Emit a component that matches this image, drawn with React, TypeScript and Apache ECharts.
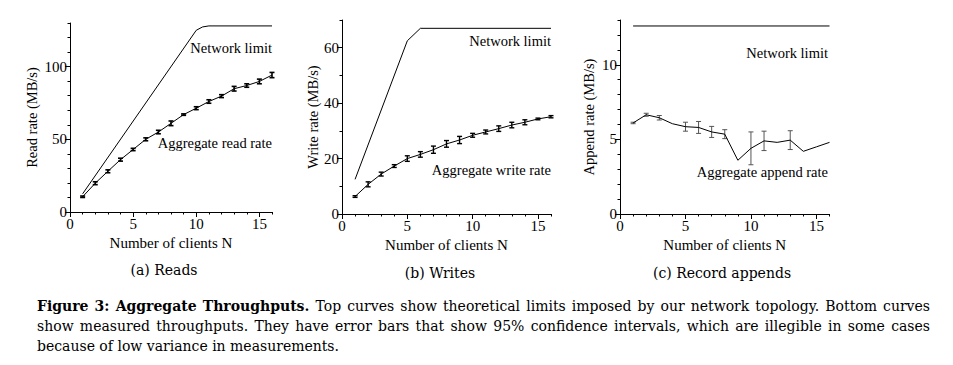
import React, { useEffect, useRef } from "react";
import * as echarts from "echarts";

// ---------------- data ----------------
const clients = [1, 2, 3, 4, 5, 6, 7, 8, 9, 10, 11, 12, 13, 14, 15, 16];

const readLimitX = [1, 10, 10.5, 11, 16];
const readLimitY = [12.5, 125, 127.3, 128, 128];
const readRate = [10.5, 19.8, 28, 36, 43, 50, 55, 61, 67, 71.4, 76, 79.7, 84.8, 87, 89.8, 94.2];
const readErr = [0.5, 1, 1, 1, 0.8, 1, 1.2, 1.6, 0.5, 1, 1.2, 1, 1.6, 1.2, 1.6, 1.8];

const writeLimitX = [1, 5, 6, 16];
const writeLimitY = [12.5, 62.5, 67, 67];
const writeRate = [6.3, 10.7, 14.4, 17.3, 20, 21.5, 23.2, 25.3, 26.7, 28.4, 29.6, 30.8, 32.1, 33.1, 34.3, 35.1];
const writeErr = [0.3, 0.9, 0.7, 0.5, 1, 1, 1.3, 1.2, 1.3, 0.7, 0.7, 1, 1, 0.9, 0.3, 0.4];

const appendLimitX = [1, 16];
const appendLimitY = [12.6, 12.6];
const appendRate = [6.1, 6.65, 6.45, 6.05, 5.85, 5.8, 5.5, 5.35, 3.6, 4.4, 4.9, 4.8, 4.95, 4.2, 4.5, 4.8];
const appendErr = [0.05, 0.1, 0.15, 0, 0.3, 0.4, 0.37, 0.3, 0, 1.1, 0.65, 0, 0.63, 0, 0, 0];

const xTitle = "Number of clients N";
const yTitles = ["Read rate (MB/s)", "Write rate (MB/s)", "Append rate (MB/s)"];
const limitLabel = "Network limit";
const rateLabels = ["Aggregate read rate", "Aggregate write rate", "Aggregate append rate"];
const panelCaptions = ["(a) Reads", "(b) Writes", "(c) Record appends"];
const captionBold = "Figure 3: Aggregate Throughputs.";
const captionLine1 = "Top curves show theoretical limits imposed by our network topology. Bottom curves";
const captionLine2 = "show measured throughputs. They have error bars that show 95% confidence intervals, which are illegible in some cases";
const captionLine3 = "because of low variance in measurements.";

const panelData = [
  { limitX: readLimitX, limitY: readLimitY, rate: readRate, err: readErr },
  { limitX: writeLimitX, limitY: writeLimitY, rate: writeRate, err: writeErr },
  { limitX: appendLimitX, limitY: appendLimitY, rate: appendRate, err: appendErr },
];

// ---------------- layout ----------------
const layout = [
  { left: 70, top: 23, width: 202, height: 189, ymax: 130, major: 50, minor: 10, majorTop: 100, nameGap: 31,
    limitPos: [272, 48], ratePos: [272, 143], capPos: [164, 270], errColor: "#000", errWidth: 1.6 },
  { left: 342, top: 20, width: 209, height: 194, ymax: 70, major: 20, minor: 10, majorTop: 60, nameGap: 22,
    limitPos: [551, 41], ratePos: [551, 170], capPos: [440, 273], errColor: "#000", errWidth: 1.4 },
  { left: 620, top: 20, width: 209.5, height: 194, ymax: 13, major: 5, minor: 1, majorTop: 10, nameGap: 24,
    limitPos: [828, 53], ratePos: [828, 172], capPos: [722, 273], errColor: "#555", errWidth: 1 },
];

const chartFont = "Liberation Serif";
const capFont = "DejaVu Serif";
const capSize = 14;
const capLeft = 37;
const capRight = 930;
const capY = [306, 326, 346];

function makeErrRender(color: string, width: number) {
  return (params: any, api: any) => {
    const x = api.value(0);
    const lo = api.coord([x, api.value(1)]);
    const hi = api.coord([x, api.value(2)]);
    const cap = 2.5;
    const style = { stroke: color, lineWidth: width };
    return {
      type: "group",
      children: [
        { type: "line", shape: { x1: lo[0], y1: lo[1], x2: hi[0], y2: hi[1] }, style },
        { type: "line", shape: { x1: lo[0] - cap, y1: lo[1], x2: lo[0] + cap, y2: lo[1] }, style },
        { type: "line", shape: { x1: hi[0] - cap, y1: hi[1], x2: hi[0] + cap, y2: hi[1] }, style },
      ],
    };
  };
}

export default function App() {
  const ref = useRef<HTMLDivElement>(null);
  useEffect(() => {
    if (!ref.current) return;
    const chart = echarts.init(ref.current, undefined, { renderer: "svg" });

    const grid: any[] = [];
    const xAxis: any[] = [];
    const yAxis: any[] = [];
    const series: any[] = [];
    const graphic: any[] = [];
    const black = "#000";

    layout.forEach((L, i) => {
      const d = panelData[i];
      const gMain = grid.length;
      grid.push({ left: L.left, top: L.top, width: L.width, height: L.height });
      const gMaj = grid.length;
      const hMaj = (L.height * L.majorTop) / L.ymax;
      grid.push({ left: L.left, top: L.top + L.height - hMaj, width: (L.width * 15) / 16, height: hMaj });

      const axisIdx = xAxis.length;
      xAxis.push({
        type: "value", gridIndex: gMain, min: 0, max: 16, interval: 1,
        axisLine: { show: true, lineStyle: { color: black, width: 1 } },
        axisTick: { show: true, length: 2.5, lineStyle: { color: black, width: 1 } },
        axisLabel: { formatter: (v: number) => (v % 5 === 0 && v <= 15 ? String(v) : ""), color: black,
          fontFamily: chartFont, fontSize: 15, margin: 4 },
        splitLine: { show: false },
        name: xTitle, nameLocation: "middle", nameGap: 20,
        nameTextStyle: { color: black, fontFamily: chartFont, fontSize: 15 },
      });
      yAxis.push({
        type: "value", gridIndex: gMain, min: 0, max: L.ymax, interval: L.minor,
        axisLine: { show: true, lineStyle: { color: black, width: 1 } },
        axisTick: { show: true, length: 2.5, lineStyle: { color: black, width: 1 } },
        axisLabel: { formatter: (v: number) => (v % L.major === 0 && v <= L.majorTop ? String(v) : ""), color: black,
          fontFamily: chartFont, fontSize: 15, margin: 3 },
        splitLine: { show: false },
        name: yTitles[i], nameLocation: "middle", nameRotate: 90, nameGap: L.nameGap,
        nameTextStyle: { color: black, fontFamily: chartFont, fontSize: 14.5 },
      });
      xAxis.push({
        type: "value", gridIndex: gMaj, min: 0, max: 15, interval: 5,
        axisLine: { show: false }, axisLabel: { show: false }, splitLine: { show: false },
        axisTick: { show: true, length: 5, lineStyle: { color: black, width: 1 } },
      });
      yAxis.push({
        type: "value", gridIndex: gMaj, min: 0, max: L.majorTop, interval: L.major,
        axisLine: { show: false }, axisLabel: { show: false }, splitLine: { show: false },
        axisTick: { show: true, length: 5, lineStyle: { color: black, width: 1 } },
      });

      series.push({
        type: "line", xAxisIndex: axisIdx, yAxisIndex: axisIdx, silent: true,
        data: d.limitX.map((x, k) => [x, d.limitY[k]]), showSymbol: false, symbol: "none",
        lineStyle: { color: black, width: 1 },
      });
      series.push({
        type: "line", xAxisIndex: axisIdx, yAxisIndex: axisIdx, silent: true,
        data: clients.map((x, k) => [x, d.rate[k]]), showSymbol: false, symbol: "none",
        lineStyle: { color: black, width: 1 },
      });
      series.push({
        type: "custom", xAxisIndex: axisIdx, yAxisIndex: axisIdx, silent: true,
        renderItem: makeErrRender(L.errColor, L.errWidth),
        encode: { x: 0, y: [1, 2] },
        data: clients
          .map((x, k) => [x, d.rate[k] - d.err[k], d.rate[k] + d.err[k], d.err[k]])
          .filter((r) => r[3] > 0),
      });

      const tStyle = { fill: black, fontFamily: chartFont, fontSize: 14.5, align: "right", verticalAlign: "middle" };
      graphic.push({ type: "text", x: L.limitPos[0], y: L.limitPos[1], silent: true, style: { ...tStyle, text: limitLabel } });
      graphic.push({ type: "text", x: L.ratePos[0], y: L.ratePos[1], silent: true, style: { ...tStyle, text: rateLabels[i] } });
      graphic.push({
        type: "text", x: L.capPos[0], y: L.capPos[1], silent: true,
        style: { text: panelCaptions[i], fill: black, fontFamily: capFont, fontSize: capSize, align: "center", verticalAlign: "middle" },
      });
    });

    // caption, justified lines
    const ctx = document.createElement("canvas").getContext("2d")!;
    const fontStr = (bold: boolean) => `${bold ? "bold " : ""}${capSize}px "${capFont}"`;
    const measure = (t: string, bold: boolean) => {
      ctx.font = fontStr(bold);
      return ctx.measureText(t).width;
    };
    const justify = (tokens: { t: string; b: boolean }[], y: number) => {
      const widths = tokens.map((tk) => measure(tk.t, tk.b));
      const sum = widths.reduce((a, b) => a + b, 0);
      const gap = (capRight - capLeft - sum) / (tokens.length - 1);
      let x = capLeft;
      tokens.forEach((tk, k) => {
        graphic.push({
          type: "text", x, y, silent: true,
          style: { text: tk.t, fill: black, fontFamily: capFont, fontSize: capSize, fontWeight: tk.b ? "bold" : "normal",
            align: "left", verticalAlign: "middle" },
        });
        x += widths[k] + gap;
      });
    };
    const words = (s: string, b: boolean) => s.split(" ").map((t) => ({ t, b }));
    justify([...words(captionBold, true), ...words(captionLine1, false)], capY[0]);
    justify(words(captionLine2, false), capY[1]);
    graphic.push({
      type: "text", x: capLeft, y: capY[2], silent: true,
      style: { text: captionLine3, fill: black, fontFamily: capFont, fontSize: capSize, align: "left", verticalAlign: "middle" },
    });

    chart.setOption({
      animation: false,
      backgroundColor: "#fff",
      textStyle: { fontFamily: chartFont },
      grid, xAxis, yAxis, series, graphic,
    });
    return () => chart.dispose();
  }, []);
  return <div ref={ref} style={{ position: "absolute", left: 0, top: 0, width: 953, height: 365 }} />;
}
